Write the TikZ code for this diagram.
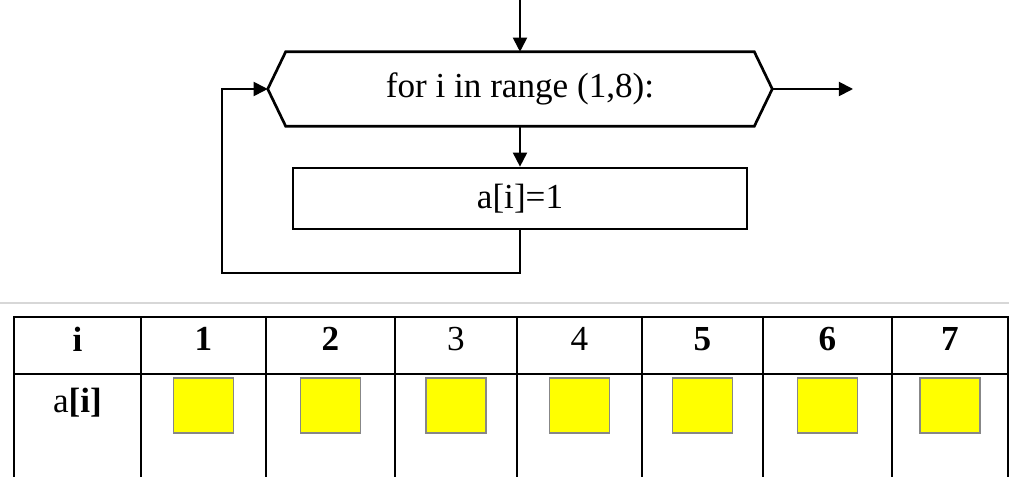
\documentclass[tikz,border=0pt]{standalone}
\usepackage{fontspec}
\setmainfont{Liberation Serif}
\usetikzlibrary{arrows.meta}
\definecolor{boxyel}{RGB}{255,255,0}
\definecolor{sepgray}{RGB}{215,215,215}
\definecolor{sqedge}{RGB}{135,135,135}
\tikzset{
  blk/.style={line width=1.9pt},
  arr/.style={line width=1.3pt,-{Triangle[length=10pt,width=10pt]}},
  txt/.style={font=\fontsize{25}{30}\selectfont},
  tab/.style={line width=1.5pt},
  head/.style={txt},
  headb/.style={font=\fontsize{25}{30}\selectfont\bfseries},
  cell/.style={draw=sqedge,line width=1.2pt,fill=boxyel,minimum width=1.5cm,minimum height=1.375cm,inner sep=0pt},
}

\begin{document}
\begin{tikzpicture}
\useasboundingbox (0,0) rectangle (25.225,11.925);
\node[txt,minimum width=11.7cm,minimum height=1.85cm,inner sep=0pt] (hex) at (13.0,9.7) {for i in range (1,8):};
\coordinate (lt) at ([xshift=-0.45cm]hex.west);
\coordinate (rt) at ([xshift=0.45cm]hex.east);
\draw[blk] (hex.north west) -- (hex.north east) -- (rt) -- (hex.south east) -- (hex.south west) -- (lt) -- cycle;
\node[txt,draw,blk,minimum width=11.35cm,minimum height=1.525cm,inner sep=0pt] (body) at (13.0,6.9625) {a[i]=1};
\coordinate (top) at (13.0,11.925);
\coordinate (exit) at (21.325,9.7);
\coordinate (back) at (5.55,5.1);
\draw[arr] (top) -- (hex.north);
\draw[arr] (hex.south) -- (body.north);
\draw[arr] (body.south) |- (back) |- (lt);
\draw[arr] (rt) -- (exit);

\draw[sepgray,line width=1.5pt] (0,4.35) -- (25.225,4.35);
\draw[tab] (0.35,0) -- (0.35,4.0) -- (25.2,4.0) -- (25.2,0);
\draw[tab,line width=2pt] (0.35,2.575) -- (25.2,2.575);
\foreach \x in {3.525,6.65,9.875,12.925,16.05,19.075,22.3}
  \draw[tab] (\x,0) -- (\x,4.0);
\node[headb] (hi) at (1.9375,3.45) {i};
\node[txt] (ai) at (1.9375,1.85) {a\textbf{[i]}};
\foreach \x/\n/\w in {5.0875/1/headb,8.2625/2/headb,11.4/3/head,14.4875/4/head,17.5625/5/headb,20.6875/6/headb,23.75/7/headb}{
  \node[\w] (h\n) at (\x,3.45) {\n};
  \node[cell] (c\n) at (\x,1.7875) {};
}
\end{tikzpicture}
\end{document}
